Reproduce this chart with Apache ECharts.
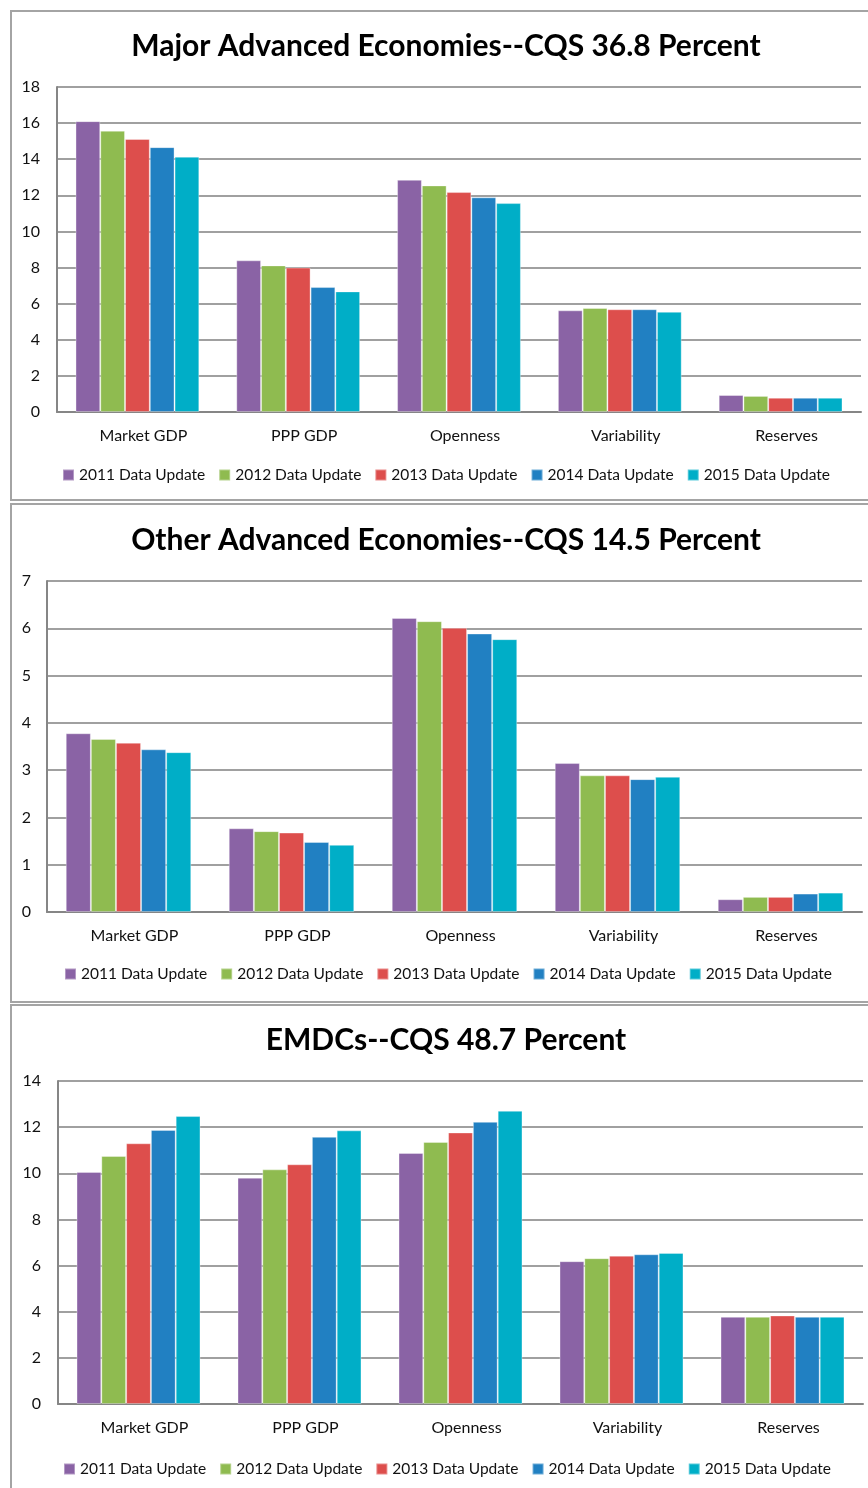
<!DOCTYPE html>
<html>
<head>
<meta charset="utf-8">
<title>CQS components by data update</title>
<script src="https://cdn.jsdelivr.net/npm/echarts@6/dist/echarts.min.js"></script>
<style>
  html, body { margin: 0; padding: 0; background: #ffffff; }
  #chart { width: 868px; height: 1488px; }
</style>
</head>
<body>
<div id="chart"></div>
<script>
// Variable groups on the category axis
const categories = ['Market GDP', 'PPP GDP', 'Openness', 'Variability', 'Reserves'];
// One series per data vintage
const vintages = ['2011 Data Update', '2012 Data Update', '2013 Data Update', '2014 Data Update', '2015 Data Update'];

// Panel titles
const panelTitles = [
  'Major Advanced Economies--CQS 36.8 Percent',
  'Other Advanced Economies--CQS 14.5 Percent',
  'EMDCs--CQS 48.7 Percent'
];

// Value-axis ticks for each panel
const majorTicks = [0, 2, 4, 6, 8, 10, 12, 14, 16, 18];
const otherTicks = [0, 1, 2, 3, 4, 5, 6, 7];
const emdcTicks = [0, 2, 4, 6, 8, 10, 12, 14];

// Major advanced economies, one row per vintage (2011..2015)
const major2011 = [16.11, 8.40, 12.86, 5.63, 0.94];
const major2012 = [15.58, 8.12, 12.55, 5.76, 0.89];
const major2013 = [15.12, 8.00, 12.18, 5.69, 0.79];
const major2014 = [14.67, 6.92, 11.89, 5.69, 0.79];
const major2015 = [14.14, 6.68, 11.57, 5.55, 0.79];

// Other advanced economies
const other2011 = [3.78, 1.77, 6.22, 3.15, 0.27];
const other2012 = [3.66, 1.71, 6.15, 2.89, 0.32];
const other2013 = [3.58, 1.68, 6.01, 2.89, 0.32];
const other2014 = [3.44, 1.48, 5.89, 2.81, 0.39];
const other2015 = [3.38, 1.42, 5.77, 2.86, 0.41];

// Emerging market and developing countries
const emdc2011 = [10.06, 9.81, 10.88, 6.19, 3.78];
const emdc2012 = [10.75, 10.17, 11.36, 6.32, 3.78];
const emdc2013 = [11.30, 10.39, 11.77, 6.43, 3.84];
const emdc2014 = [11.88, 11.58, 12.23, 6.49, 3.78];
const emdc2015 = [12.48, 11.86, 12.71, 6.55, 3.78];

const palette = ['#8a63a5', '#8fbb50', '#dd4e4c', '#2180c2', '#00aec7'];

const panelValues = [
  [major2011, major2012, major2013, major2014, major2015],
  [other2011, other2012, other2013, other2014, other2015],
  [emdc2011, emdc2012, emdc2013, emdc2014, emdc2015]
];
const panelTicks = [majorTicks, otherTicks, emdcTicks];

// Page layout of the three stacked panels
const layout = [
  { box: [11, 11, 900, 489], grid: { left: 57, top: 87, width: 804, height: 325 }, titleY: 46, legendTop: 467, legendLeft: 62, yMargin: 17 },
  { box: [11, 504, 900, 498], grid: { left: 47, top: 581, width: 815, height: 331 }, titleY: 540, legendTop: 966, legendLeft: 64, yMargin: 16 },
  { box: [11, 1005, 900, 600], grid: { left: 58, top: 1081, width: 805, height: 323 }, titleY: 1040, legendTop: 1461, legendLeft: 63, yMargin: 17 }
];

const FONT = 'Lato, "Open Sans", "Liberation Sans", sans-serif';
const TEXT_COLOR = '#111111';

const grids = [], xAxes = [], yAxes = [], legends = [], series = [], graphics = [];

layout.forEach(function (p, i) {
  graphics.push({
    type: 'rect',
    shape: { x: p.box[0], y: p.box[1], width: p.box[2], height: p.box[3] },
    style: { fill: 'none', stroke: '#a4a4a4', lineWidth: 2 },
    silent: true
  });
  graphics.push({
    type: 'text',
    x: 446,
    y: p.titleY,
    style: {
      text: panelTitles[i],
      font: 'bold 30px ' + FONT,
      fill: '#000000',
      textAlign: 'center',
      textVerticalAlign: 'middle'
    },
    silent: true
  });

  grids.push(Object.assign({ containLabel: false }, p.grid));

  xAxes.push({
    type: 'category',
    gridIndex: i,
    data: categories,
    axisTick: { show: false },
    axisLine: { lineStyle: { color: '#868686', width: 2 } },
    axisLabel: { margin: 16, color: TEXT_COLOR, fontFamily: FONT, fontSize: 16, padding: [0, 0, 0, 12] }
  });

  const ticks = panelTicks[i];
  yAxes.push({
    type: 'value',
    gridIndex: i,
    min: ticks[0],
    max: ticks[ticks.length - 1],
    interval: ticks[1] - ticks[0],
    axisLine: { show: true, lineStyle: { color: '#868686', width: 2 } },
    axisTick: { show: false },
    axisLabel: { margin: p.yMargin, color: TEXT_COLOR, fontFamily: FONT, fontSize: 16 },
    splitLine: { lineStyle: { color: '#a0a0a0', width: 2 } }
  });

  legends.push({
    left: p.legendLeft,
    top: p.legendTop,
    orient: 'horizontal',
    icon: 'rect',
    itemWidth: 11,
    itemHeight: 11,
    itemGap: 13,
    padding: 0,
    data: vintages,
    textStyle: { color: TEXT_COLOR, fontFamily: FONT, fontSize: 15.5 }
  });

  panelValues[i].forEach(function (values, k) {
    series.push({
      type: 'bar',
      name: vintages[k],
      xAxisIndex: i,
      yAxisIndex: i,
      data: values,
      barGap: '0%',
      barCategoryGap: '23%',
      itemStyle: { color: palette[k], borderColor: 'rgba(255,255,255,0.35)', borderWidth: 1 },
      emphasis: { disabled: true }
    });
  });
});

const chart = echarts.init(document.getElementById('chart'), null, { renderer: 'canvas' });
chart.setOption({
  backgroundColor: '#ffffff',
  animation: false,
  color: palette,
  grid: grids,
  xAxis: xAxes,
  yAxis: yAxes,
  legend: legends,
  series: series,
  graphic: graphics
});
</script>
</body>
</html>
